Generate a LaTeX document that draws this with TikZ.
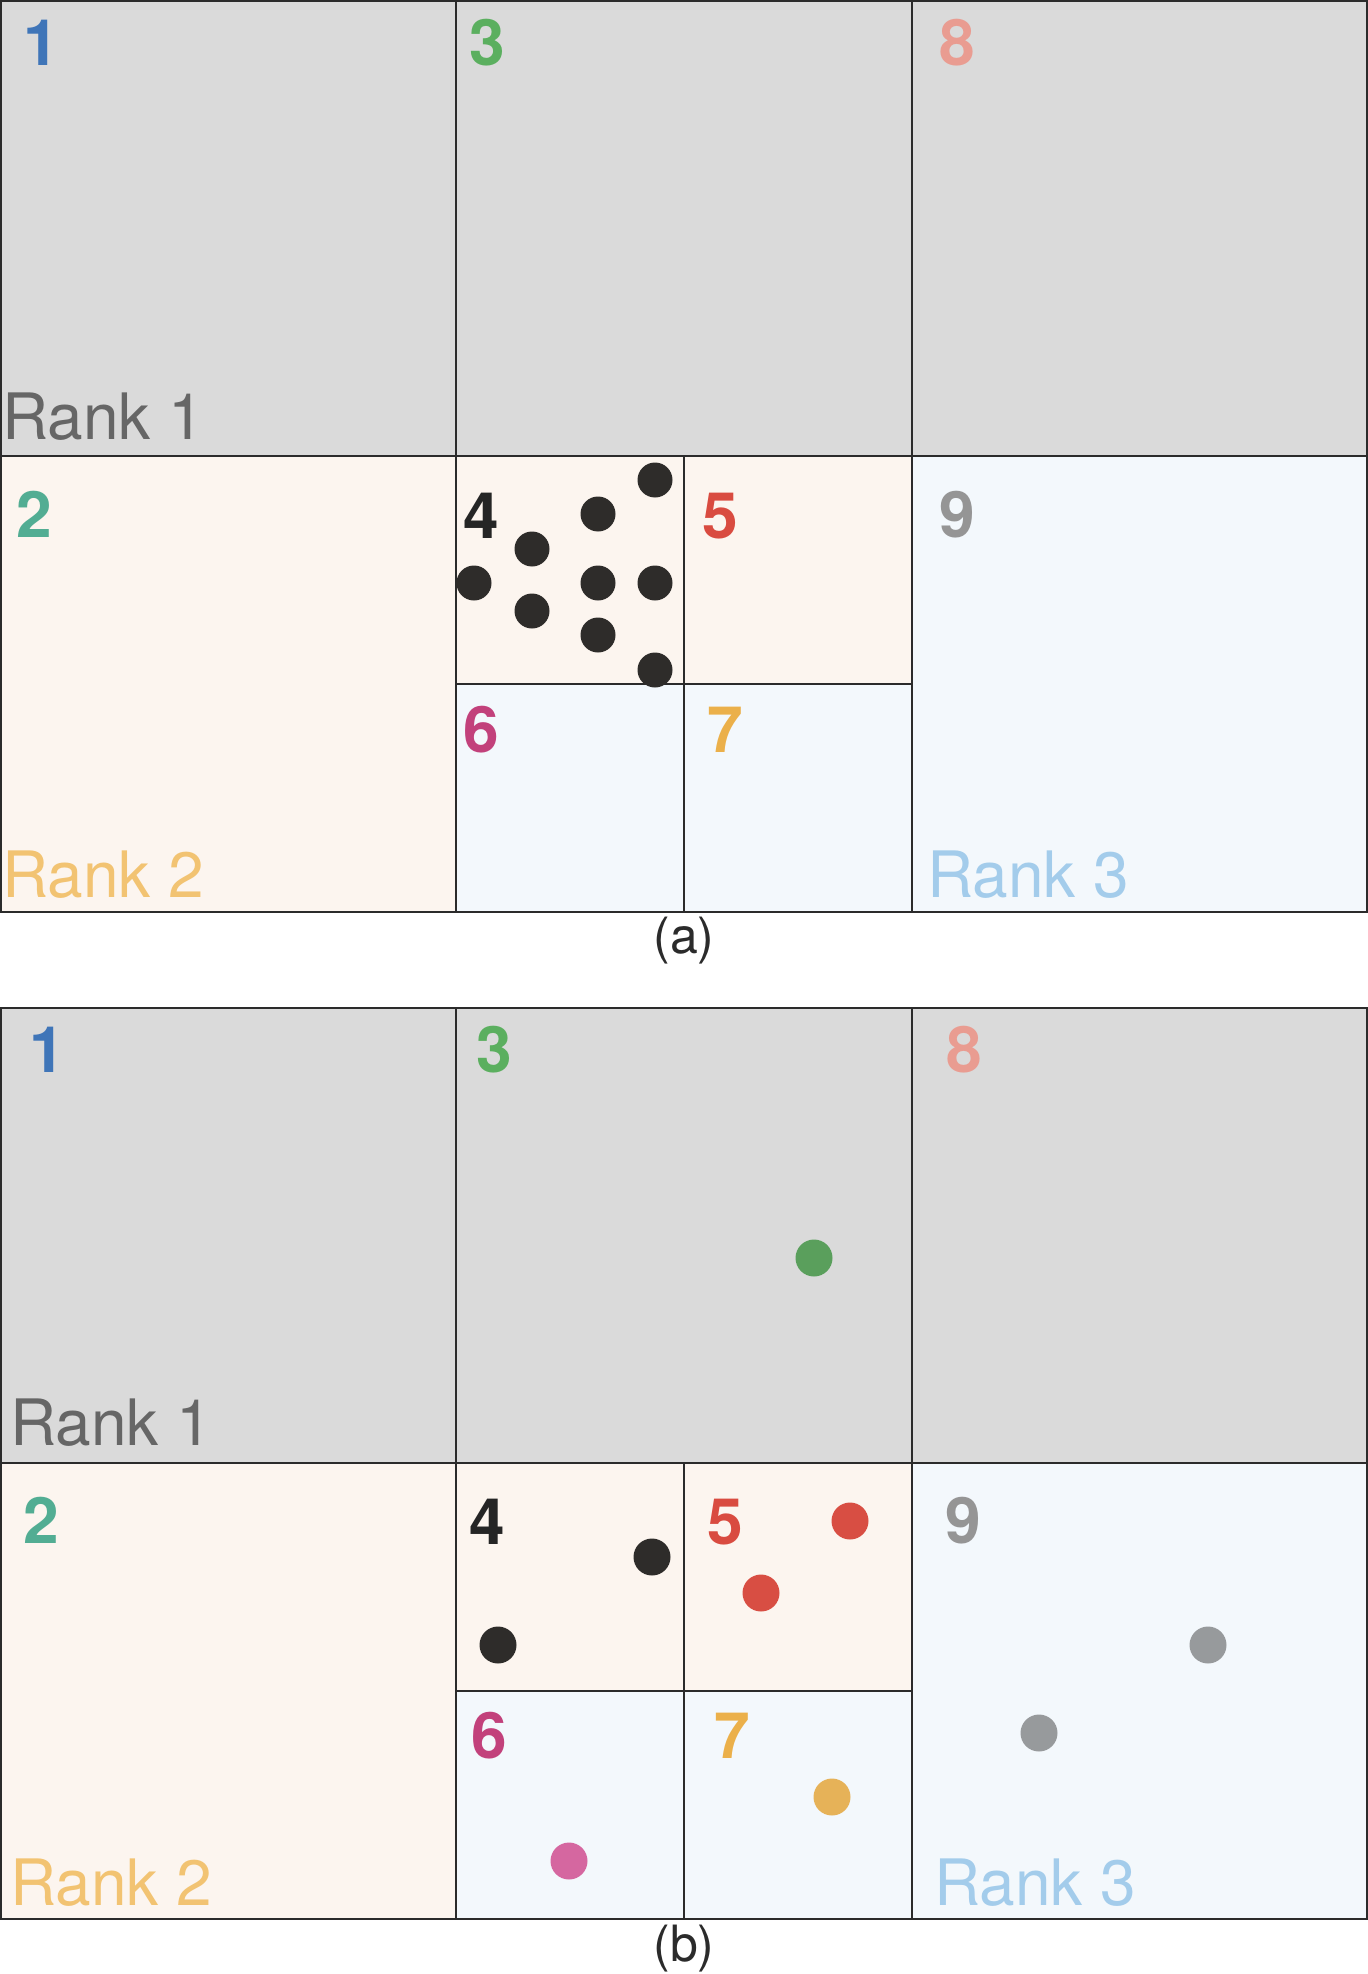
\documentclass[tikz,border=0pt]{standalone}
\usepackage{fontspec}
\setmainfont{TeX Gyre Heros}
\definecolor{rOne}{HTML}{DADADA}
\definecolor{rTwo}{HTML}{FCF5EF}
\definecolor{rThree}{HTML}{F3F8FC}
\definecolor{edge}{HTML}{2B2B2B}
\definecolor{cOne}{HTML}{3F75B8}
\definecolor{cTwo}{HTML}{52AD93}
\definecolor{cThree}{HTML}{5BAF5F}
\definecolor{cFour}{HTML}{252525}
\definecolor{cFive}{HTML}{D94B40}
\definecolor{cSix}{HTML}{C2417B}
\definecolor{cSeven}{HTML}{EBB04A}
\definecolor{cEight}{HTML}{E99C91}
\definecolor{cNine}{HTML}{959595}
\definecolor{tRankOne}{HTML}{666666}
\definecolor{tRankTwo}{HTML}{F2C372}
\definecolor{tRankThree}{HTML}{A3CCEB}
\definecolor{dBlack}{HTML}{2E2C2A}
\definecolor{dRed}{HTML}{D84E43}
\definecolor{dYellow}{HTML}{E6B258}
\definecolor{dPink}{HTML}{D567A0}
\definecolor{dGray}{HTML}{979A9C}
\definecolor{dGreen}{HTML}{5A9F5C}
\tikzset{
  cellbox/.style={draw=edge, line width=0.7pt},
  cellnum/.style={anchor=base, inner sep=0pt, font=\fontsize{32}{38}\selectfont\bfseries},
  ranklabel/.style={anchor=base west, inner sep=0pt, font=\fontsize{32}{38}\selectfont},
  caplabel/.style={anchor=base, inner sep=0pt, font=\fontsize{25}{30}\selectfont, text=edge},
  dot/.style={circle, inner sep=0pt, minimum size=18.5pt}
}
\begin{document}
\begin{tikzpicture}[x=0.5pt,y=-0.5pt]
\useasboundingbox (0,0) rectangle (1368,1974);
\fill[white] (0,0) rectangle (1368,1974);
% ---------------- panel (a) ----------------
\path[cellbox, fill=rOne] (1,1) rectangle (456,456);
\path[cellbox, fill=rOne] (456,1) rectangle (912,456);
\path[cellbox, fill=rOne] (912,1) rectangle (1367,456);
\path[cellbox, fill=rTwo] (1,456) rectangle (456,912);
\path[cellbox, fill=rTwo] (456,456) rectangle (684,684);
\path[cellbox, fill=rTwo] (684,456) rectangle (912,684);
\path[cellbox, fill=rThree] (456,684) rectangle (684,912);
\path[cellbox, fill=rThree] (684,684) rectangle (912,912);
\path[cellbox, fill=rThree] (912,456) rectangle (1367,912);
\draw[edge, line width=1.1pt] (1,456) -- (456,456);
\node[cellnum, text=cOne] (a1) at (41,66) {1};
\node[cellnum, text=cThree] (a3) at (487,66) {3};
\node[cellnum, text=cEight] (a8) at (957,66) {8};
\node[cellnum, text=cTwo] (a2) at (34,537) {2};
\node[cellnum, text=cFour] (a4) at (481,538) {4};
\node[cellnum, text=cFive] (a5) at (720,538) {5};
\node[cellnum, text=cNine] (a9) at (957,537) {9};
\node[cellnum, text=cSix] (a6) at (481,752) {6};
\node[cellnum, text=cSeven] (a7) at (725,752) {7};
\node[ranklabel, text=tRankOne] (ar1) at (2,439) {Rank 1};
\node[ranklabel, text=tRankTwo] (ar2) at (2,897) {Rank 2};
\node[ranklabel, text=tRankThree] (ar3) at (927,897) {Rank 3};
\node[dot, fill=dBlack, minimum size=17.5pt] (ad1) at (655,480) {};
\node[dot, fill=dBlack, minimum size=17.5pt] (ad2) at (598,514) {};
\node[dot, fill=dBlack, minimum size=17.5pt] (ad3) at (532,549) {};
\node[dot, fill=dBlack, minimum size=17.5pt] (ad4) at (474,583) {};
\node[dot, fill=dBlack, minimum size=17.5pt] (ad5) at (598,583) {};
\node[dot, fill=dBlack, minimum size=17.5pt] (ad6) at (655,583) {};
\node[dot, fill=dBlack, minimum size=17.5pt] (ad7) at (532,611) {};
\node[dot, fill=dBlack, minimum size=17.5pt] (ad8) at (598,635) {};
\node[dot, fill=dBlack, minimum size=17.5pt] (ad9) at (655,670) {};
\node[caplabel] (capa) at (684,953) {(a)};
% ---------------- panel (b) ----------------
\path[cellbox, fill=rOne] (1,1008) rectangle (456,1463);
\path[cellbox, fill=rOne] (456,1008) rectangle (912,1463);
\path[cellbox, fill=rOne] (912,1008) rectangle (1367,1463);
\path[cellbox, fill=rTwo] (1,1463) rectangle (456,1919);
\path[cellbox, fill=rTwo] (456,1463) rectangle (684,1691);
\path[cellbox, fill=rTwo] (684,1463) rectangle (912,1691);
\path[cellbox, fill=rThree] (456,1691) rectangle (684,1919);
\path[cellbox, fill=rThree] (684,1691) rectangle (912,1919);
\path[cellbox, fill=rThree] (912,1463) rectangle (1367,1919);
\node[cellnum, text=cOne] (b1) at (47,1072) {1};
\node[cellnum, text=cThree] (b3) at (494,1072) {3};
\node[cellnum, text=cEight] (b8) at (964,1072) {8};
\node[cellnum, text=cTwo] (b2) at (41,1543) {2};
\node[cellnum, text=cFour] (b4) at (487,1544) {4};
\node[cellnum, text=cFive] (b5) at (725,1544) {5};
\node[cellnum, text=cNine] (b9) at (963,1543) {9};
\node[cellnum, text=cSix] (b6) at (489,1758) {6};
\node[cellnum, text=cSeven] (b7) at (732,1758) {7};
\node[ranklabel, text=tRankOne] (br1) at (10,1445) {Rank 1};
\node[ranklabel, text=tRankTwo] (br2) at (10,1905) {Rank 2};
\node[ranklabel, text=tRankThree] (br3) at (934,1905) {Rank 3};
\node[dot, fill=dGreen] (bd3) at (814,1258) {};
\node[dot, fill=dBlack] (bd4a) at (652,1557) {};
\node[dot, fill=dBlack] (bd4b) at (498,1645) {};
\node[dot, fill=dRed] (bd5a) at (850,1521) {};
\node[dot, fill=dRed] (bd5b) at (761,1593) {};
\node[dot, fill=dYellow] (bd7) at (832,1797) {};
\node[dot, fill=dPink] (bd6) at (569,1861) {};
\node[dot, fill=dGray] (bd9a) at (1208,1645) {};
\node[dot, fill=dGray] (bd9b) at (1039,1733) {};
\node[caplabel] (capb) at (684,1961) {(b)};
\end{tikzpicture}
\end{document}
